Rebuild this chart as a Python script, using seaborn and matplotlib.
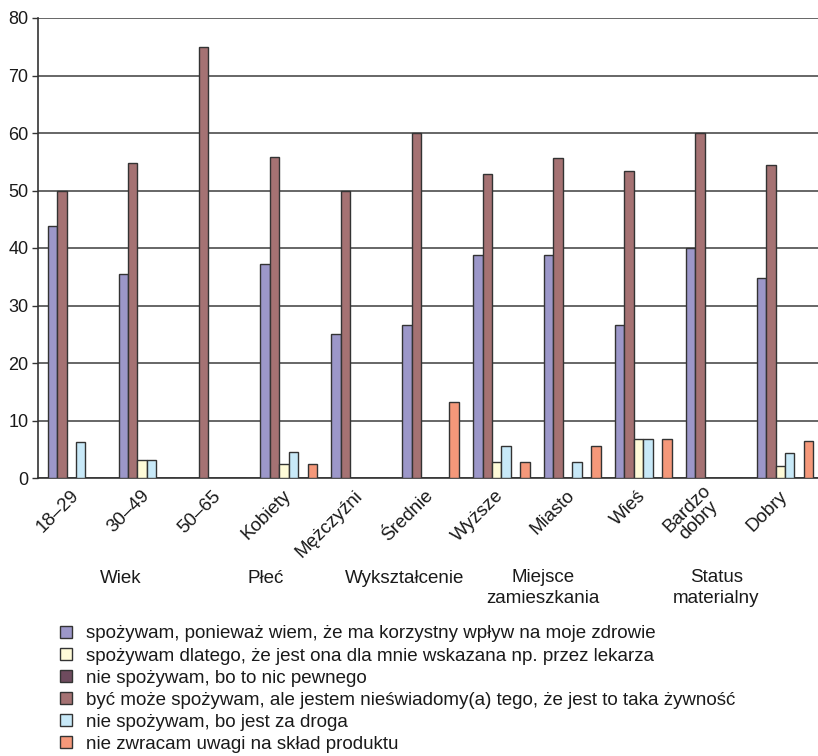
import matplotlib
matplotlib.use("Agg")
import matplotlib.pyplot as plt
import matplotlib.transforms as mtransforms
from matplotlib.patches import Patch
import seaborn as sns
import pandas as pd

categories = ["18–29", "30–49", "50–65", "Kobiety", "Mężczyźni", "Średnie",
              "Wyższe", "Miasto", "Wieś", "Bardzo\ndobry", "Dobry"]

groups = ["Wiek", "Płeć", "Wykształcenie", "Miejsce\nzamieszkania", "Status\nmaterialny"]

s_zdrowie = [43.8, 35.4, 0, 37.2, 25.1, 26.6, 38.8, 38.8, 26.6, 40.0, 34.8]
s_lekarz = [0, 3.2, 0, 2.4, 0, 0, 2.8, 0, 6.7, 0, 2.1]
s_niepewne = [0, 0, 0, 0, 0, 0, 0, 0, 0, 0, 0]
s_nieswiadomy = [50.0, 54.8, 75.0, 55.9, 50.0, 60.0, 52.8, 55.6, 53.4, 60.0, 54.4]
s_droga = [6.2, 3.2, 0, 4.6, 0, 0, 5.6, 2.8, 6.7, 0, 4.3]
s_sklad = [0, 0, 0, 2.4, 0, 13.3, 2.8, 5.6, 6.7, 0, 6.5]

series_names = [
    "spożywam, ponieważ wiem, że ma korzystny wpływ na moje zdrowie",
    "spożywam dlatego, że jest ona dla mnie wskazana np. przez lekarza",
    "nie spożywam, bo to nic pewnego",
    "być może spożywam, ale jestem nieświadomy(a) tego, że jest to taka żywność",
    "nie spożywam, bo jest za droga",
    "nie zwracam uwagi na skład produktu",
]
series_values = [s_zdrowie, s_lekarz, s_niepewne, s_nieswiadomy, s_droga, s_sklad]
series_colors = ["#9c97c9", "#fffbd8", "#6e4b5e", "#a57273", "#c8e9f8", "#f5987a"]

# order of the bars inside each group
bar_order = [0, 3, 1, 4, 2, 5]

rows = []
for name, vals in zip(series_names, series_values):
    for cat, v in zip(categories, vals):
        rows.append({"kategoria": cat, "odpowiedź": name, "procent": v})
df = pd.DataFrame(rows)

sns.set_theme(style="white")
plt.rcParams["font.family"] = ["Liberation Sans", "DejaVu Sans"]

TEXT = "#1a1a1a"
FS = 13.5

fig = plt.figure(figsize=(8.18, 7.56), dpi=100)
ax = fig.add_axes([38 / 818, 1 - 478 / 756, 1 - 38 / 818, 460 / 756])

palette = dict(zip(series_names, series_colors))
sns.barplot(data=df, x="kategoria", y="procent", hue="odpowiedź",
            order=categories, hue_order=[series_names[i] for i in bar_order],
            palette=palette, width=0.8, edgecolor="#333333", linewidth=1.0,
            saturation=1, legend=False, ax=ax, zorder=3)

ax.set_ylim(0, 80)
ax.set_xlim(-0.536, 10.465)
ax.set_yticks(range(0, 81, 10))
ax.yaxis.grid(True, color="#5a5a5a", linewidth=1.3, zorder=0)
ax.set_axisbelow(True)
for side in ["top", "right"]:
    ax.spines[side].set_visible(False)
ax.spines["left"].set_color("#333333")
ax.spines["left"].set_linewidth(1.2)
ax.spines["bottom"].set_color("#333333")
ax.spines["bottom"].set_linewidth(1.2)
ax.tick_params(axis="y", direction="out", length=4, width=1, color="#333333",
               labelsize=13, labelcolor=TEXT, pad=3, left=True)
ax.tick_params(axis="x", length=0, labelsize=FS, labelcolor=TEXT, pad=11)
ax.set_xlabel("")
ax.set_ylabel("")
for lbl in ax.get_xticklabels():
    lbl.set_rotation(45)
    lbl.set_ha("right")
    lbl.set_va("center")
    lbl.set_rotation_mode("anchor")
    lbl.set_multialignment("center")
    lbl.set_linespacing(0.95)

trans = mtransforms.blended_transform_factory(ax.transData, ax.transAxes)
group_x = [0.63, 2.68, 4.63, 6.59, 9.03]
for gx, g in zip(group_x, groups):
    if "\n" in g:
        ax.text(gx, -0.198, g, transform=trans, ha="center", va="top",
                fontsize=FS, color=TEXT, linespacing=1.3)
    else:
        ax.text(gx, -0.218, g, transform=trans, ha="center", va="center",
                fontsize=FS, color=TEXT)

handles = [Patch(facecolor=c, edgecolor="#333333", linewidth=1.0) for c in series_colors]
fig.legend(handles, series_names, loc="upper left",
           bbox_to_anchor=(53 / 818, 1 - 618 / 756), frameon=False,
           fontsize=FS, handlelength=0.6, handleheight=0.6,
           handletextpad=0.75, labelspacing=0.27, borderaxespad=0,
           labelcolor=TEXT)

fig.savefig("out.png", dpi=100)
